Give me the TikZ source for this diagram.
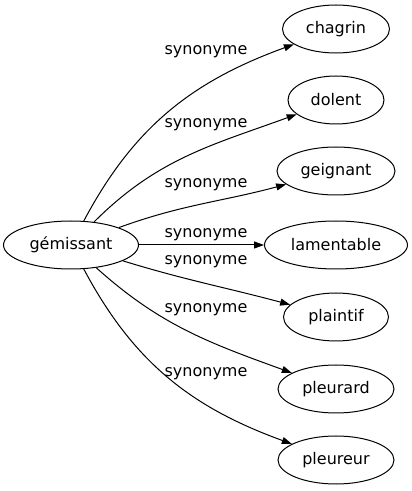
\documentclass[tikz,border=0pt]{standalone}
\usepackage{fontspec}
\setmainfont{DejaVu Sans}
\usetikzlibrary{shapes.geometric,arrows.meta}

\begin{document}
\begin{tikzpicture}[
  x=1pt, y=1pt,
  every node/.style={font=\fontsize{16}{19}\selectfont},
  word/.style={ellipse, draw, line width=1pt, minimum height=48pt, inner sep=0pt},
  syn/.style={line width=1pt, -{Triangle[length=10pt,width=7pt]}}
]
\useasboundingbox (0,0) rectangle (412,491);
\node[word, minimum width=135pt] (gemissant) at (71,246) {gémissant};
\node[word, minimum width=107pt] (chagrin) at (336,462) {chagrin};
\node[word, minimum width=96pt] (dolent) at (336,391) {dolent};
\node[word, minimum width=118pt] (geignant) at (336,320) {geignant};
\node[word, minimum width=143pt] (lamentable) at (336,246) {lamentable};
\node[word, minimum width=105pt] (plaintif) at (336,174) {plaintif};
\node[word, minimum width=116pt] (pleurard) at (336,102) {pleurard};
\node[word, minimum width=116pt] (pleureur) at (336,31) {pleureur};

\node (syn1) at (206,439) {synonyme};
\node (syn2) at (206,366) {synonyme};
\node (syn3) at (206,306) {synonyme};
\node (syn4) at (206,256) {synonyme};
\node (syn5) at (206,229) {synonyme};
\node (syn6) at (206,181) {synonyme};
\node (syn7) at (206,117) {synonyme};

\draw[syn] (gemissant) to[out=62, in=200] (chagrin);
\draw[syn] (gemissant) to[out=45, in=200] (dolent);
\draw[syn] (gemissant) to[out=20, in=195] (geignant);
\draw[syn] (gemissant) -- (lamentable);
\draw[syn] (gemissant) to[out=-17, in=165] (plaintif);
\draw[syn] (gemissant) to[out=-42, in=160] (pleurard);
\draw[syn] (gemissant) to[out=-62, in=160] (pleureur);
\end{tikzpicture}
\end{document}
